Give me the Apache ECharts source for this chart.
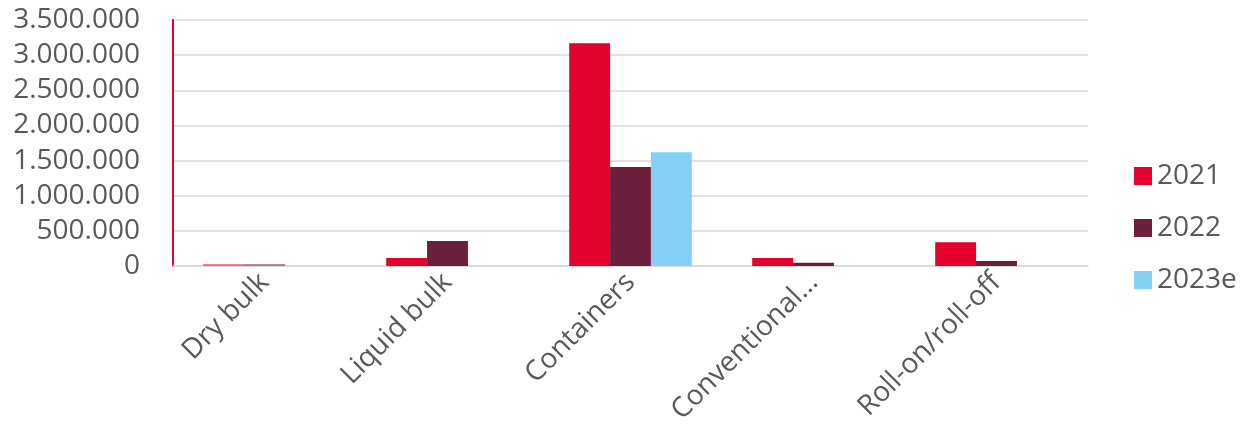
<!DOCTYPE html>
<html><head><meta charset="utf-8">
<script src="https://cdn.jsdelivr.net/npm/echarts@6/dist/echarts.min.js"></script>
<style>html,body{margin:0;padding:0;background:#fff}#c{width:1240px;height:445px}</style>
</head><body><div id="c"></div>
<script>
const categories = ['Dry bulk', 'Liquid bulk', 'Containers', 'Conventional…', 'Roll-on/roll-off'];
const seriesNames = ['2021', '2022', '2023e'];
const v2021 = [28000, 114000, 3170000, 114000, 337000];
const v2022 = [28000, 356000, 1410000, 47000, 71000];
const v2023e = [null, null, 1620000, null, null];
const colors = ['#E4032E', '#6C1F3C', '#84D0F4'];
const fadedIndex = 0; // Dry bulk bars appear faded in the reference

function fmt(v){ return String(v).replace(/\B(?=(\d{3})+(?!\d))/g, '.'); }
function mk(vals, i){
  return {
    name: seriesNames[i], type: 'bar', barGap: '0%', barCategoryGap: '33%',
    itemStyle: {color: colors[i]},
    data: vals.map((v, k) => k === fadedIndex && v != null ? {value: v, itemStyle: {opacity: 0.5}} : v)
  };
}
const chart = echarts.init(document.getElementById('c'));
chart.setOption({
  animation: false,
  textStyle: {fontFamily: 'Open Sans, Noto Sans, sans-serif'},
  grid: {left: 173, right: 152, top: 20, bottom: 179},
  legend: {
    orient: 'vertical', left: 1129, top: 157, itemGap: 24,
    itemWidth: 18, itemHeight: 18, icon: 'rect',
    textStyle: {fontSize: 28, color: '#595959', padding: [0,0,0,0]}
  },
  xAxis: {
    type: 'category', data: categories,
    axisLine: {lineStyle: {color: '#D9D9D9', width: 1.5}},
    axisTick: {show: false},
    axisLabel: {rotate: 45, fontSize: 28, color: '#595959', margin: 12, interval: 0}
  },
  yAxis: {
    type: 'value', min: 0, max: 3500000, interval: 500000,
    axisLine: {show: true, lineStyle: {color: '#E4032E', width: 2}},
    splitLine: {lineStyle: {color: '#D9D9D9', width: 1.5}},
    axisLabel: {fontSize: 28, color: '#595959', margin: 33, formatter: fmt}
  },
  series: [mk(v2021, 0), mk(v2022, 1), mk(v2023e, 2)]
});
</script></body></html>
